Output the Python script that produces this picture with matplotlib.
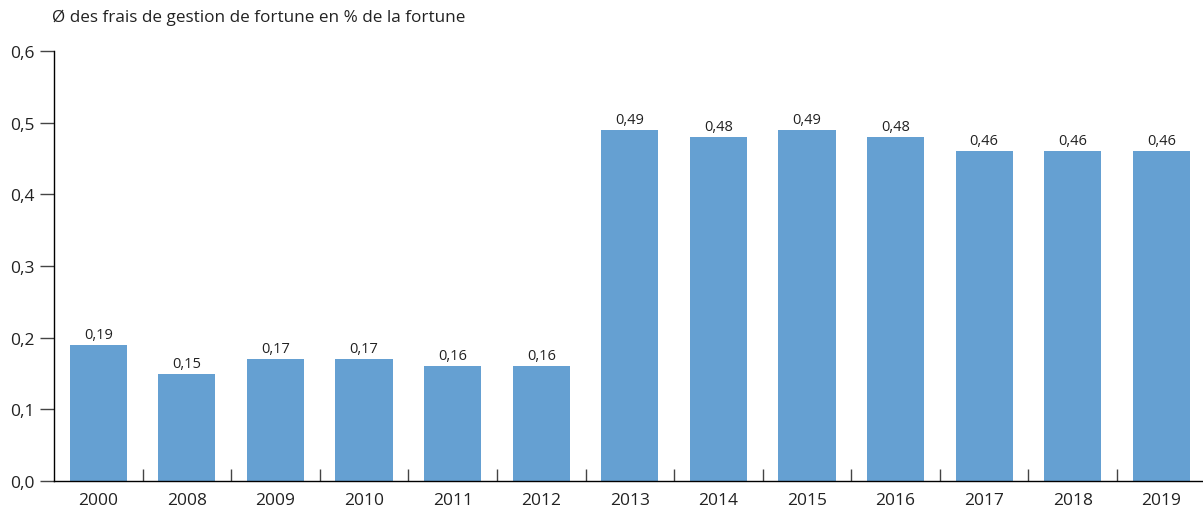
"""Average wealth management fees as % of wealth, bar chart."""

import matplotlib.pyplot as plt
import numpy as np

plt.rcParams["font.family"] = ["Open Sans", "DejaVu Sans"]

years = ["2000", "2008", "2009", "2010", "2011", "2012", "2013",
         "2014", "2015", "2016", "2017", "2018", "2019"]
fees = [0.19, 0.15, 0.17, 0.17, 0.16, 0.16, 0.49,
        0.48, 0.49, 0.48, 0.46, 0.46, 0.46]
title = "Ø des frais de gestion de fortune en % de la fortune"

bar_color = "#65a0d2"
text_color = "#222222"

fig = plt.figure(figsize=(12.03, 5.10), dpi=100)
ax = fig.add_axes([54 / 1203, 28 / 510, 1 - 54 / 1203, 430 / 510])

x = np.arange(len(years))
bars = ax.bar(x, fees, width=0.645, color=bar_color, zorder=2)

for rect, val in zip(bars, fees):
    ax.text(rect.get_x() + rect.get_width() / 2, val + 0.004,
            f"{val:.2f}".replace(".", ","), ha="center", va="bottom",
            fontsize=10.5, color=text_color)

ax.set_xlim(-0.5, 12.47)
ax.set_ylim(0, 0.6)

ax.set_xticks(x)
ax.set_xticklabels(years, fontsize=12.5, color=text_color)
ax.set_xticks(np.arange(0.5, len(years) - 1, 1), minor=True)
ax.tick_params(axis="x", which="major", length=0, pad=8)
ax.tick_params(axis="x", which="minor", direction="in", length=9,
               width=1, color="#444444")

yticks = np.arange(0, 0.61, 0.1)
ax.set_yticks(yticks)
ax.set_yticklabels([f"{t:.1f}".replace(".", ",") for t in yticks],
                   fontsize=12.5, color=text_color)
ax.tick_params(axis="y", direction="out", length=10, width=1,
               color="#444444", pad=4)

for side in ("top", "right"):
    ax.spines[side].set_visible(False)
ax.spines["left"].set_linewidth(1)
ax.spines["bottom"].set_linewidth(1)

fig.text(52 / 1203, 1 - 18 / 510, title, ha="left", va="center",
         fontsize=12.3, color=text_color)

fig.savefig("out.png", dpi=100)
